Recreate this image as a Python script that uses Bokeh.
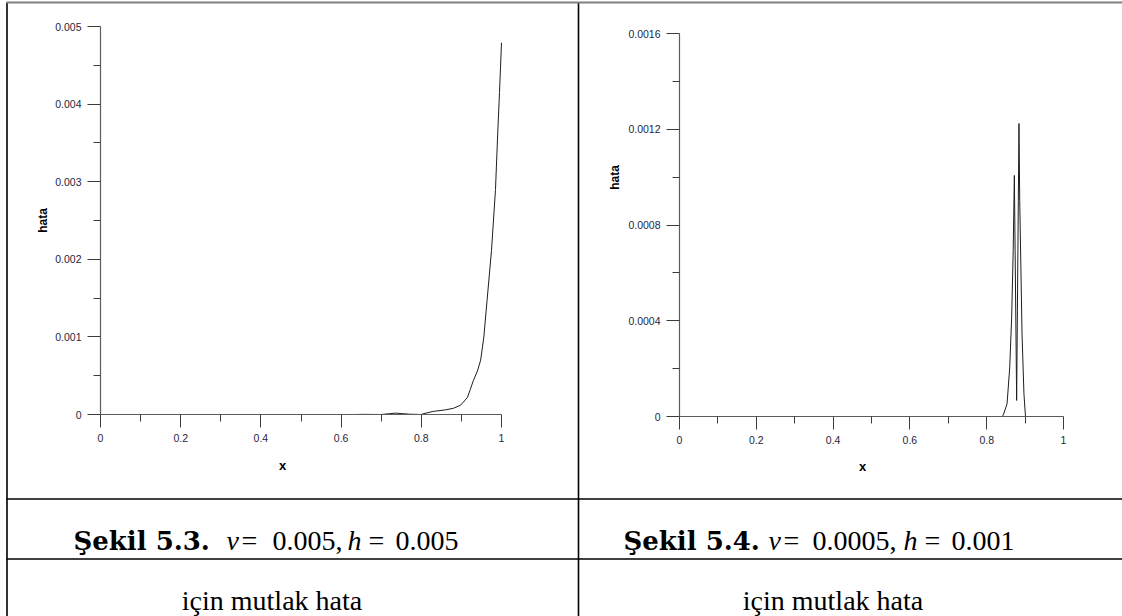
from math import pi

from bokeh.core.properties import value
from bokeh.embed import file_html
from bokeh.models import CustomJSTickFormatter, FixedTicker, LinearAxis, Range1d
from bokeh.plotting import figure
from bokeh.resources import INLINE

# ---- data -----------------------------------------------------------------
# Absolute error, nu = 0.005, h = 0.005
left_x = [0.63, 0.66, 0.70, 0.72, 0.735, 0.75, 0.77, 0.80, 0.805, 0.83, 0.86,
          0.88, 0.898, 0.905, 0.915, 0.922, 0.93, 0.94, 0.948, 0.956, 0.964,
          0.975, 0.985, 0.99, 0.995, 1.0]
left_err = [0.0, 0.000002, 0.0, 0.00001, 0.000018, 0.000012, 0.000004, 0.0,
            0.00001, 0.00004, 0.00006, 0.00008, 0.00012, 0.00016, 0.00022,
            0.00032, 0.00044, 0.00056, 0.00070, 0.00100, 0.00147, 0.00211,
            0.00290, 0.00355, 0.00415, 0.00479]

# Absolute error, nu = 0.0005, h = 0.001
right_x = [0.841, 0.844, 0.853, 0.860, 0.865, 0.869, 0.872, 0.878, 0.884,
           0.886, 0.889, 0.892, 0.897, 0.901]
right_err = [0.0, 0.00001, 0.000053, 0.000206, 0.000415, 0.000693, 0.001007,
             0.000067, 0.001224, 0.000902, 0.000624, 0.000345, 0.000095, 0.0]

x_ticks = [0, 0.2, 0.4, 0.6, 0.8, 1]
x_tick_labels = ["0", "0.2", "0.4", "0.6", "0.8", "1"]
x_minor = [0.1, 0.3, 0.5, 0.7, 0.9]

left_y_ticks = [0, 0.001, 0.002, 0.003, 0.004, 0.005]
left_y_tick_labels = ["0", "0.001", "0.002", "0.003", "0.004", "0.005"]
left_y_minor = [0.0005, 0.0015, 0.0025, 0.0035, 0.0045]

right_y_ticks = [0, 0.0004, 0.0008, 0.0012, 0.0016]
right_y_tick_labels = ["0", "0.0004", "0.0008", "0.0012", "0.0016"]
right_y_minor = [0.0002, 0.0006, 0.001, 0.0014]

x_title = "x"
y_title = "hata"

caption_left = ["Şekil 5.3.", "ν", "=", "0.005,", "h", "=", "0.005"]
caption_right = ["Şekil 5.4.", "ν", "=", "0.0005,", "h", "=", "0.001"]
caption_styles = ["bold", "italic", "normal", "normal", "italic", "normal", "normal"]
caption_second_line = "için mutlak hata"

# ---- page geometry (pixels) ------------------------------------------------
W, H = 1122, 616
cap_left_x = [73, 226, 241, 272, 347, 368, 395]
cap_right_x = [623, 768, 783, 812, 903, 924, 951]

p = figure(width=W, height=H, x_range=Range1d(0, W), y_range=Range1d(H, 0),
           output_backend="svg", toolbar_location=None,
           x_axis_location=None, y_axis_location=None,
           min_border=0, outline_line_color=None,
           background_fill_color="white", border_fill_color="white")
p.xgrid.visible = False
p.ygrid.visible = False


def pixel_range(d0, p0, d1, p1, lo, hi):
    """Range whose values d0/d1 land on canvas pixels p0/p1."""
    k = (d1 - d0) / (p1 - p0)
    return Range1d(d0 + (lo - p0) * k, d0 + (hi - p0) * k)


p.extra_x_ranges = {
    "lx": pixel_range(0, 100, 1, 501, 0, W),
    "rx": pixel_range(0, 679, 1, 1063, 0, W),
}
p.extra_y_ranges = {
    "ly": pixel_range(0, 414, 0.005, 26, H, 0),
    "ry": pixel_range(0, 416, 0.0016, 33, H, 0),
}


def label_formatter(vals, labs):
    return CustomJSTickFormatter(
        args=dict(vals=vals, labs=labs),
        code="""
        for (let i = 0; i < vals.length; i++) {
            if (Math.abs(vals[i] - tick) < 1e-12) return labs[i]
        }
        return ''
        """,
    )


axis_style = dict(
    axis_line_color="#5c5c5c", axis_line_width=1.2,
    major_tick_line_color="#3c3c3c", minor_tick_line_color="#3c3c3c",
    major_tick_in=0, major_tick_out=13, minor_tick_in=0, minor_tick_out=7,
    major_label_text_font="Liberation Sans",
    major_label_text_font_size="10.5px",
    major_label_text_color="#262640",
    major_label_standoff=6,
)


def add_axes(xr, yr, y_ticks, y_labels, y_minor, y_top):
    xa = LinearAxis(x_range_name=xr, y_range_name=yr, fixed_location=0,
                    bounds=(0, 1),
                    ticker=FixedTicker(ticks=x_ticks, minor_ticks=x_minor),
                    formatter=label_formatter(x_ticks, x_tick_labels),
                    **axis_style)
    ya = LinearAxis(x_range_name=xr, y_range_name=yr, fixed_location=0,
                    bounds=(0, y_top),
                    ticker=FixedTicker(ticks=y_ticks, minor_ticks=y_minor),
                    formatter=label_formatter(y_ticks, y_labels),
                    **axis_style)
    p.add_layout(xa, "below")
    p.add_layout(ya, "left")


add_axes("lx", "ly", left_y_ticks, left_y_tick_labels, left_y_minor, left_y_ticks[-1])
add_axes("rx", "ry", right_y_ticks, right_y_tick_labels, right_y_minor, right_y_ticks[-1])

# error curves
p.line(left_x, left_err, x_range_name="lx", y_range_name="ly",
       line_color="#1e1e1e", line_width=1)
p.line(right_x, right_err, x_range_name="rx", y_range_name="ry",
       line_color="#1e1e1e", line_width=1)

# axis titles
title_font = dict(text_font=value("Liberation Sans"), text_font_style="bold",
                  text_color="black", text_align="center", text_baseline="middle")
p.text(x=[282, 862], y=[465, 466], text=[x_title, x_title],
       text_font_size=value("13px"), **title_font)
p.text(x=[42, 614], y=[220, 177], text=[y_title, y_title], angle=pi / 2,
       text_font_size=value("12px"), **title_font)

# table rules
p.segment(x0=[6.5, 578], y0=[2, 2], x1=[6.5, 578], y1=[H, H],
          line_color="black", line_width=1.6)
p.segment(x0=[6], y0=[2], x1=[W], y1=[2], line_color="#808080", line_width=2)
p.segment(x0=[6, 6], y0=[498.5, 558.5], x1=[W, W], y1=[498.5, 558.5],
          line_color="black", line_width=1.4)

# captions
for xs, parts in ((cap_left_x, caption_left), (cap_right_x, caption_right)):
    for x, txt, style in zip(xs, parts, caption_styles):
        if style == "bold":
            font, size = "DejaVu Serif", "26px"
        else:
            font, size = "Liberation Serif", "28px"
        p.text(x=[x], y=[540], text=[txt], text_font=value(font),
               text_font_size=value(size), text_font_style=style,
               text_color="black", text_align="left",
               text_baseline="alphabetic")

p.text(x=[271.5, 832.5], y=[600, 600],
       text=[caption_second_line, caption_second_line],
       text_font=value("Liberation Serif"), text_font_size=value("28px"),
       text_color="black", text_align="center", text_baseline="alphabetic")

open("out.html", "w").write(file_html(p, INLINE))
